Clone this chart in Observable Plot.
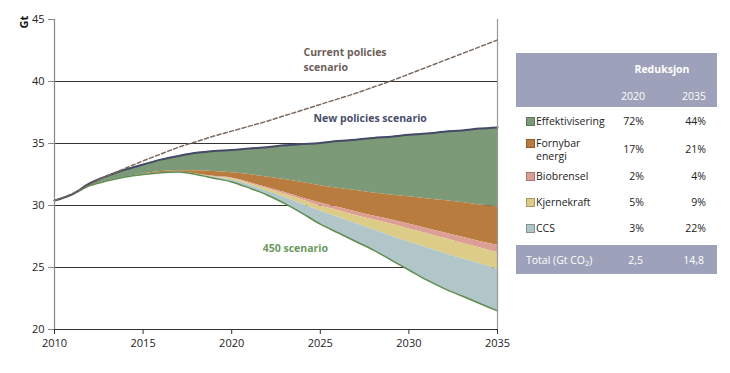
<!DOCTYPE html>
<html><head><meta charset="utf-8">
<script src="https://cdn.jsdelivr.net/npm/d3@7"></script>
<script src="https://cdn.jsdelivr.net/npm/@observablehq/plot@0.6"></script>
<style>
body{margin:0;background:#fff;font-family:"Open Sans",sans-serif;}
#wrap{position:relative;width:730px;height:373px;overflow:hidden;}
#legend{position:absolute;left:0;top:0;width:730px;height:373px;pointer-events:none;font-size:10.5px;color:#222;}
#legend .bg{position:absolute;left:516px;width:201px;background:#9ea1ba;}
#legend .t{position:absolute;white-space:nowrap;line-height:12px;}
#legend .sw{position:absolute;width:7px;height:7px;}
sub{font-size:7.5px;vertical-align:-2px;line-height:0;}
</style></head>
<body><div id="wrap"><div id="chart"></div><div id="legend"></div></div>
<script>
// ---- data ----
const years = [2010,2011,2012,2013,2014,2015,2016,2017,2018,2019,2020,2021,2022,2023,2024,2025,2026,2027,2028,2029,2030,2031,2032,2033,2034,2035];
const currentPolicies = [30.4,30.95,31.7,32.4,33.0,33.6,34.15,34.7,35.15,35.6,36.0,36.4,36.8,37.25,37.7,38.15,38.6,39.05,39.55,40.05,40.6,41.15,41.7,42.25,42.8,43.35];
const newPolicies = [30.4,30.9,31.8,32.4,32.9,33.3,33.7,34.0,34.25,34.4,34.48,34.6,34.7,34.85,34.95,35.05,35.2,35.3,35.45,35.55,35.7,35.8,35.95,36.05,36.2,36.3];
const effLower = [30.4,30.9,31.6,32.0,32.3,32.55,32.75,32.8,32.8,32.75,32.65,32.5,32.3,32.1,31.85,31.6,31.4,31.2,31.0,30.85,30.7,30.55,30.4,30.25,30.05,29.9];
const fornLower = [30.4,30.9,31.6,32.0,32.3,32.5,32.65,32.7,32.55,32.35,32.22,31.85,31.45,31.05,30.6,30.2,29.85,29.5,29.15,28.85,28.5,28.15,27.8,27.45,27.1,26.8];
const bioLower = [30.4,30.9,31.6,32.0,32.3,32.5,32.65,32.7,32.52,32.3,32.17,31.78,31.35,30.9,30.45,29.95,29.6,29.2,28.85,28.5,28.1,27.75,27.35,26.95,26.6,26.2];
const kjLower = [30.4,30.9,31.6,32.0,32.3,32.5,32.65,32.7,32.5,32.25,32.05,31.65,31.15,30.65,30.1,29.55,29.05,28.55,28.05,27.55,27.05,26.6,26.15,25.7,25.3,24.85];
const s450 = [30.4,30.9,31.6,32.0,32.3,32.5,32.65,32.7,32.5,32.2,31.9,31.4,30.85,30.15,29.35,28.5,27.8,27.1,26.4,25.6,24.8,24.0,23.3,22.7,22.1,21.5];

const categories = ["Effektivisering","Fornybar energi","Biobrensel","Kjernekraft","CCS"];
const categoryLines = [["Effektivisering"],["Fornybar","energi"],["Biobrensel"],["Kjernekraft"],["CCS"]];
const categoryColors = ["#7c9a78","#b87d3e","#dd9e96","#ddcc87","#b0c6c8"];
const share2020 = ["72%","17%","2%","5%","3%"];
const share2035 = ["44%","21%","4%","9%","22%"];
const totalLabel = "Total (Gt CO";
const total2020 = "2,5";
const total2035 = "14,8";
const tableTitle = "Reduksjon";
const tableYears = ["2020","2035"];

const yTicks = [20,25,30,35,40,45];
const xTicks = [2010,2015,2020,2025,2030,2035];
const gridValues = [25,30,35,40];

const labels = [
  {text:"Current policies", year:2024.05, value:42.3, color:"#6d6058"},
  {text:"scenario", year:2024.05, value:41.15, color:"#6d6058"},
  {text:"New policies scenario", year:2024.62, value:37.0, color:"#4a4e6a"},
  {text:"450 scenario", year:2021.75, value:26.5, color:"#6a9a5c"}
];

// ---- build ----
const bounds = [newPolicies, effLower, fornLower, bioLower, kjLower, s450];
const areaMarks = categories.map((c, k) => {
  const rows = years.map((yr, i) => ({year: yr, hi: bounds[k][i], lo: bounds[k+1][i]}));
  return Plot.areaY(rows, {x:"year", y1:"lo", y2:"hi", fill: categoryColors[k], curve:"monotone-x"});
});
const series = (arr) => years.map((yr, i) => ({year: yr, v: arr[i]}));

const chart = Plot.plot({
  width: 730, height: 373,
  marginLeft: 54, marginRight: 233, marginTop: 19, marginBottom: 44,
  style: {fontFamily: "'Open Sans', sans-serif", fontSize: "11px", color: "#222", background: "#fff"},
  x: {domain: [2010, 2035]},
  y: {domain: [20, 45]},
  marks: [
    Plot.ruleY(gridValues, {stroke: "#333", strokeWidth: 1}),
    ...areaMarks,
    Plot.line(series(s450), {x:"year", y:"v", stroke:"#5e8c50", strokeWidth:1.5, curve:"monotone-x"}),
    Plot.line(series(newPolicies), {x:"year", y:"v", stroke:"#464a68", strokeWidth:2, curve:"monotone-x"}),
    Plot.line(series(currentPolicies), {x:"year", y:"v", stroke:"#7b6a5f", strokeWidth:1.5, strokeDasharray:"4,2.5", curve:"monotone-x"}),
    Plot.ruleX([2010], {stroke:"#888", strokeWidth:1.2}),
    Plot.ruleX([2035], {stroke:"#999", strokeWidth:1.2}),
    Plot.ruleY([20], {stroke:"#333", strokeWidth:1}),
    Plot.axisY({ticks: yTicks, tickSize: 6, tickPadding: 4, label: null, stroke:"#888", fill:"#222", tickFormat: d => String(d)}),
    Plot.axisX({ticks: xTicks, tickSize: 5, tickPadding: 5, label: null, stroke:"#333", fill:"#222", tickFormat: d => String(d)}),
    Plot.text(["Gt"], {frameAnchor:"top-left", dx:-34, dy:9, rotate:-90, fontWeight:"bold", fontSize:11, fill:"#111"}),
    ...labels.map(l => Plot.text([l], {x:"year", y:"value", text:"text", fill:l.color, textAnchor:"start", fontWeight:"bold", fontSize:10.5}))
  ]
});
document.getElementById("chart").append(chart);

// ---- legend table ----
const lg = document.getElementById("legend");
function bg(top, h){ const d=document.createElement("div"); d.className="bg"; d.style.top=top+"px"; d.style.height=h+"px"; lg.append(d); }
function txt(html, x, y, opt={}){ const d=document.createElement("div"); d.className="t"; d.innerHTML=html;
  d.style.top=(y-6)+"px";
  if(opt.right!=null){ d.style.right=(730-opt.right)+"px"; d.style.textAlign="right"; }
  else if(opt.center!=null){ d.style.left=(opt.center-50)+"px"; d.style.width="100px"; d.style.textAlign="center"; }
  else d.style.left=x+"px";
  if(opt.color) d.style.color=opt.color; if(opt.bold) d.style.fontWeight="bold";
  lg.append(d); }
bg(53, 54);
bg(245, 29);
txt(tableTitle, 0, 69, {center:662, color:"#fff", bold:true});
txt(tableYears[0], 0, 96, {right:645, color:"#fff"});
txt(tableYears[1], 0, 96, {right:706, color:"#fff"});
const rowCenters = [121, 149, 176, 202, 228];
categories.forEach((c, k) => {
  const cy = rowCenters[k];
  const lines = categoryLines[k];
  const sw = document.createElement("div"); sw.className="sw";
  sw.style.background = categoryColors[k];
  sw.style.left = "526px";
  const firstY = cy - (lines.length-1)*6.5;
  sw.style.top = (firstY-4)+"px";
  sw.style.border = "0.5px solid rgba(0,0,0,0.25)";
  lg.append(sw);
  lines.forEach((ln, j) => txt(ln, 536, firstY + j*13));
  txt(share2020[k], 0, cy, {right:644});
  txt(share2035[k], 0, cy, {right:706});
});
txt(totalLabel + "<sub>2</sub>)", 526, 260, {color:"#fff"});
txt(total2020, 0, 260, {right:643, color:"#fff"});
txt(total2035, 0, 260, {right:704, color:"#fff"});
</script>
</body></html>
